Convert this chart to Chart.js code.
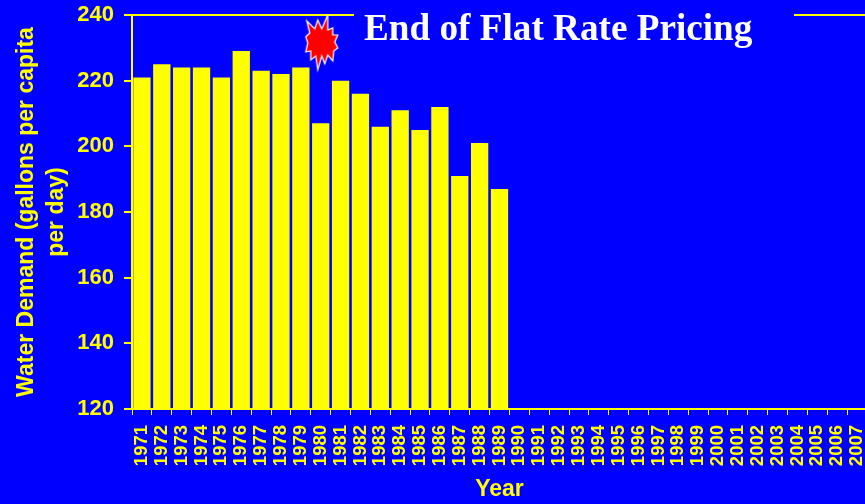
<!DOCTYPE html>
<html>
<head>
<meta charset="utf-8">
<style>
  html, body { margin: 0; padding: 0; background: #0000ff; overflow: hidden; }
  canvas { display: block; }
</style>
<script src="https://cdn.jsdelivr.net/npm/chart.js@4"></script>
</head>
<body>
<canvas id="myChart" width="880" height="504"></canvas>
<script>
const years = ['1971','1972','1973','1974','1975','1976','1977','1978','1979','1980','1981','1982','1983',
    '1984','1985','1986','1987','1988','1989','1990','1991','1992','1993','1994','1995','1996','1997',
    '1998','1999','2000','2001','2002','2003','2004','2005','2006','2007'];
const demand = [221, 225, 224, 224, 221, 229, 223, 222, 224, 207, 220, 216, 206, 211, 205, 212, 191, 201, 187];
const burstYear = '1980';
const burstValue = 231.8;
const titleText = 'End of Flat Rate Pricing';
const yTitle = ['Water Demand (gallons per capita', 'per day)'];
const xTitle = 'Year';

const yellow = '#ffff00';
const blue = '#0000ff';

// red burst used as point style for the 1980 marker
function makeBurst() {
    const c = document.createElement('canvas');
    c.width = 44;
    c.height = 64;
    const g = c.getContext('2d');
    const pts = [[-15,-21],[-7,-13],[-4,-22],[0,-13],[6,-27],[6,-12],[11,-14],[11,-7],[16,-7],[13,0],[16,6],[12,9],
        [11,19],[6,13],[3,22],[0,14],[-4,28],[-6,14],[-11,18],[-11,9],[-16,10],[-14,1],[-16,-5],[-12,-9]];
    g.translate(23, 32);
    g.beginPath();
    pts.forEach(function (p, i) {
        if (i == 0) g.moveTo(p[0], p[1]); else g.lineTo(p[0], p[1]);
    });
    g.closePath();
    g.fillStyle = '#ff0000';
    g.fill();
    g.strokeStyle = '#ffffff';
    g.lineWidth = 1.2;
    g.stroke();
    return c;
}

// title sits on the top gridline and hides the middle of it
const titlePlugin = {
    id: 'slideTitle',
    afterDraw: function (chart) {
        const ctx = chart.ctx;
        ctx.save();
        ctx.fillStyle = blue;
        ctx.fillRect(354, 8, 440, 16);
        ctx.fillStyle = '#ffffff';
        ctx.font = 'bold 37.2px "Liberation Serif"';
        ctx.textAlign = 'left';
        ctx.textBaseline = 'alphabetic';
        ctx.fillText(titleText, 364, 40);
        ctx.restore();
    }
};

new Chart(document.getElementById('myChart'), {
    data: {
        labels: years,
        datasets: [{
            type: 'line',
            label: 'End of flat rate',
            data: years.map(function (y) { return y == burstYear ? burstValue : null; }),
            showLine: false,
            pointStyle: makeBurst(),
            order: 0
        }, {
            type: 'bar',
            label: 'Water demand',
            data: demand,
            backgroundColor: yellow,
            barPercentage: 0.87,
            categoryPercentage: 1,
            order: 1
        }]
    },
    options: {
        responsive: false,
        animation: false,
        layout: { padding: { top: 15, right: 13, left: 0, bottom: 0 } },
        plugins: {
            legend: { display: false },
            tooltip: { enabled: false }
        },
        scales: {
            x: {
                afterFit: function (s) { s.height = 95; s.paddingLeft = 0; s.paddingRight = 0; },
                grid: { drawOnChartArea: false, color: yellow, tickLength: 6, offset: true },
                border: { color: yellow, width: 2 },
                ticks: {
                    color: yellow,
                    font: { family: 'Liberation Sans', weight: 'bold', size: 18.5 },
                    minRotation: 90,
                    maxRotation: 90,
                    autoSkip: false,
                    padding: 10
                },
                title: {
                    display: true,
                    text: xTitle,
                    color: yellow,
                    font: { family: 'Liberation Sans', weight: 'bold', size: 23 },
                    padding: { top: 0, bottom: 1 }
                }
            },
            y: {
                min: 120,
                max: 240,
                afterFit: function (s) { s.width = 132; s.paddingTop = 0; s.paddingBottom = 0; },
                grid: {
                    color: function (ctx) { return ctx.tick && ctx.tick.value == 240 ? yellow : 'rgba(0,0,0,0)'; },
                    tickColor: yellow,
                    tickLength: 8,
                    lineWidth: 2
                },
                border: { color: yellow, width: 2 },
                ticks: {
                    color: yellow,
                    stepSize: 20,
                    padding: 10,
                    font: { family: 'Liberation Sans', weight: 'bold', size: 22 }
                },
                title: {
                    display: true,
                    text: yTitle,
                    color: yellow,
                    font: { family: 'Liberation Sans', weight: 'bold', size: 23, lineHeight: 1.32 },
                    padding: { top: 11, bottom: 0 }
                }
            }
        }
    },
    plugins: [titlePlugin]
});
</script>
</body>
</html>
